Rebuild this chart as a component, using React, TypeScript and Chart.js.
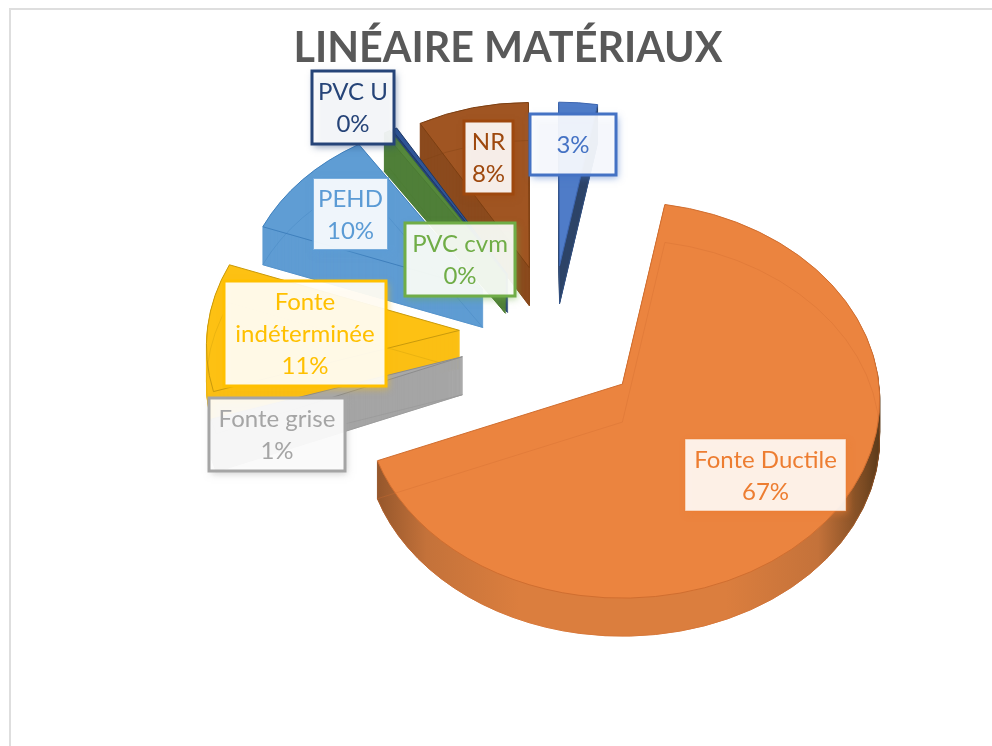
import React, { useEffect, useRef } from "react";
import { Chart, registerables } from "chart.js";

Chart.register(...registerables);

const titleText = "LINÉAIRE MATÉRIAUX";
const categories = ["Fonte Ductile", "Fonte grise", "Fonte indéterminée", "PEHD", "PVC cvm", "PVC U", "NR", ""];
const values = [67.4, 1.2, 10.6, 9.6, 0.45, 0.35, 7.7, 2.7];

const topColors = ["#EB843F", "#A8A8A8", "#FDC113", "#5F9DD4", "#55883C", "#2F5597", "#A05522", "#4F7CC8"];
const sideColors = ["#D97C3D", "#A5A5A5", "#FBBF14", "#5F9CD3", "#4F7F38", "#264478", "#8B4A1D", "#2D4468"];
const lineColors = ["#D06E30", "#8C8C8C", "#C99A0C", "#3F80BD", "#4A7A32", "#1F3864", "#7C3F12", "#3D66B0"];
const labelColors = ["#ED7D31", "#A5A5A5", "#FFC000", "#5B9BD5", "#70AD47", "#264478", "#9E480E", "#4472C4"];
const labelBorderWidths = [1, 3, 3, 2, 3, 3, 3, 3];
const labelBorderAlphas = [0.5, 1, 1, 0.8, 1, 1, 1, 1];
const labelBoxes = [
  [685, 439, 846, 511],
  [209, 398, 345, 471],
  [224, 281, 386, 386],
  [313, 178, 388, 250],
  [405, 223, 515, 296],
  [312, 71, 394, 144],
  [464, 121, 513, 194],
  [530, 114, 616, 175],
];
const drawOrder = [6, 7, 5, 4, 3, 2, 1, 0];

const CANVAS_LEFT = 11;
const CANVAS_TOP = 10;
const SHIFT_X = 44;
const EXPLODE = 93;
const SQUASH = 0.77;
const PERSPECTIVE = 0.0009;
const LATERAL = 0.00033;
const BIAS = 0.08;
const DEPTH = 38;
const FONT = "Lato, 'Open Sans', sans-serif";

const pie3d = {
  id: "pie3d",
  beforeDatasetsDraw(chart: any) {
    const ctx = chart.ctx;
    const arcs = chart.getDatasetMeta(0).data;
    for (const i of drawOrder) {
      const arc = arcs[i];
      const { x, y, startAngle, endAngle, outerRadius } = arc.getProps(["x", "y", "startAngle", "endAngle", "outerRadius"]);
      const mid = (startAngle + endAngle) / 2;
      const dx = Math.cos(mid) * EXPLODE;
      const ax = x + SHIFT_X + dx;
      const ay = y + Math.sin(mid) * EXPLODE * SQUASH;
      const s = 1 + PERSPECTIVE * (ay - y) + LATERAL * Math.max(0, -dx);
      const rx = outerRadius * s;
      const ry = rx * SQUASH;
      const b = ry * BIAS;
      const path = (dy: number) => {
        ctx.beginPath();
        ctx.moveTo(ax, ay + dy);
        ctx.ellipse(ax, ay + b + dy, rx, ry, 0, startAngle, endAngle);
        ctx.closePath();
      };
      let side: any = sideColors[i];
      if (i === 0) {
        const g = ctx.createLinearGradient(ax - rx, 0, ax + rx, 0);
        g.addColorStop(0, "#8A5028");
        g.addColorStop(0.12, "#C4723A");
        g.addColorStop(0.3, "#DB7E3E");
        g.addColorStop(0.7, "#DB7E3E");
        g.addColorStop(0.88, "#C4723A");
        g.addColorStop(0.97, "#7A4A22");
        g.addColorStop(1, "#5A3A1A");
        side = g;
      }
      ctx.save();
      ctx.fillStyle = side;
      ctx.strokeStyle = side;
      ctx.lineWidth = 1;
      for (let d = DEPTH; d > 0; d -= 1) {
        path(d);
        ctx.fill();
        ctx.stroke();
      }
      path(0);
      ctx.fillStyle = topColors[i];
      ctx.fill();
      ctx.lineWidth = 1;
      ctx.strokeStyle = lineColors[i];
      ctx.stroke();
      ctx.globalAlpha = 0.35;
      path(DEPTH);
      ctx.stroke();
      ctx.restore();
    }
    return false;
  },
  afterDraw(chart: any) {
    const ctx = chart.ctx;
    const total = values.reduce((a, v) => a + v, 0);
    ctx.save();
    ctx.font = `24px ${FONT}`;
    ctx.textAlign = "center";
    ctx.textBaseline = "middle";
    values.forEach((v, i) => {
      const [x0, y0, x1, y1] = labelBoxes[i];
      const left = x0 - CANVAS_LEFT;
      const top = y0 - CANVAS_TOP;
      const w = x1 - x0;
      const h = y1 - y0;
      ctx.save();
      ctx.shadowColor = labelColors[i] + "90";
      ctx.shadowBlur = 7;
      ctx.shadowOffsetX = 2;
      ctx.shadowOffsetY = 3;
      ctx.fillStyle = i === 0 ? "rgba(255,255,255,0.88)" : "rgba(255,255,255,0.9)";
      ctx.fillRect(left, top, w, h);
      ctx.restore();
      ctx.save();
      ctx.globalAlpha = labelBorderAlphas[i];
      ctx.lineWidth = labelBorderWidths[i];
      ctx.strokeStyle = labelColors[i];
      ctx.strokeRect(left, top, w, h);
      ctx.restore();
      const name = categories[i];
      const pct = `${Math.round((v / total) * 100)}%`;
      const lines = name === "Fonte indéterminée" ? ["Fonte", "indéterminée", pct] : name ? [name, pct] : [pct];
      ctx.fillStyle = labelColors[i];
      const lh = 32;
      const cy = top + h / 2 + 1;
      lines.forEach((line, k) => {
        ctx.fillText(line, left + w / 2, cy + (k - (lines.length - 1) / 2) * lh);
      });
    });
    ctx.restore();
  },
};

export default function App() {
  const ref = useRef<HTMLCanvasElement>(null);
  useEffect(() => {
    document.body.style.margin = "0";
    document.body.style.overflow = "hidden";
    const chart = new Chart(ref.current as HTMLCanvasElement, {
      type: "pie",
      data: {
        labels: categories,
        datasets: [{ data: values, backgroundColor: topColors, borderWidth: 0 }],
      },
      options: {
        responsive: false,
        animation: false,
        rotation: 9.5,
        radius: 247,
        layout: { padding: { bottom: 173 } },
        plugins: {
          legend: { display: false },
          tooltip: { enabled: false },
          title: {
            display: true,
            text: titleText,
            color: "#595959",
            font: { family: FONT, size: 41.3, weight: "bold" },
            padding: { top: 14, bottom: 8 },
          },
        },
      },
      plugins: [pie3d],
    } as any);
    return () => chart.destroy();
  }, []);
  return (
    <div style={{ position: "fixed", inset: 0, overflow: "hidden", background: "#fff" }}>
      <div
        style={{
          position: "absolute",
          left: 9,
          top: 8,
          width: 1010,
          height: 770,
          border: "2px solid #DEDEDE",
          boxSizing: "border-box",
        }}
      >
        <canvas ref={ref} width={994} height={756} style={{ display: "block" }} />
      </div>
    </div>
  );
}
